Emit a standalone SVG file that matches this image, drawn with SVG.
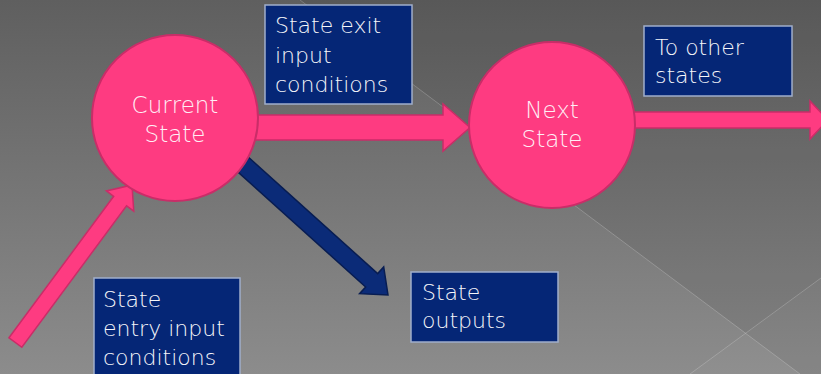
<svg xmlns="http://www.w3.org/2000/svg" width="821" height="374" viewBox="0 0 821 374">
<defs>
<linearGradient id="bg" x1="0" y1="0" x2="0" y2="1">
<stop offset="0" stop-color="#5f5f5f"/>
<stop offset="1" stop-color="#8c8c8c"/>
</linearGradient>
<style>
.state{fill:#fe3b81;stroke:#c92d68;stroke-width:2}
.pink{fill:#fe3b81;stroke:#c92d68;stroke-width:1.5;stroke-linejoin:miter}
.navy{fill:#0b2b78;stroke:#081d52;stroke-width:1.5}
.box{fill:#052676;stroke:#a0aecb;stroke-width:1.5}
.lbl{font-family:"DejaVu Sans","Liberation Sans",sans-serif;font-size:22px;font-weight:300;fill:#f6f6fa}
.slbl{font-family:"DejaVu Sans","Liberation Sans",sans-serif;font-size:23px;font-weight:300;fill:#ffeef5;text-anchor:middle}
.deco{stroke:#ffffff;stroke-opacity:0.2;stroke-width:1;fill:none}
</style>
</defs>
<g id="background">
<rect x="0" y="0" width="821" height="374" fill="url(#bg)"/>
<polygon points="300,0 821,0 821,374 800,374" fill="#000" fill-opacity="0.07"/>
<polygon points="690,374 821,278 821,374" fill="#fff" fill-opacity="0.03"/>
<line class="deco" x1="300" y1="0" x2="800" y2="374"/>
<line class="deco" x1="690" y1="374" x2="821" y2="278"/>
</g>
<g id="connectors">
<polygon id="entry-arrow" class="pink" transform="translate(132 185) rotate(-53.5)" points="-196,-8 -20,-8 -20,-17 0,0 -20,17 -20,8 -196,8"/>
<polygon id="exit-arrow" class="pink" points="250,115 443,115 443,104 470,127.5 443,151 443,140 250,140"/>
<polygon id="out-arrow" class="pink" points="630,112 810,112 810,101 828,120 810,139 810,128 630,128"/>
<polygon id="output-arrow" class="navy" transform="translate(388 295) rotate(42)" points="-200,-9 -22,-9 -22,-18 0,0 -22,18 -22,9 -200,9"/>
</g>
<g id="current-state">
<circle class="state" cx="175" cy="118" r="83"/>
<text class="slbl" x="175" y="113">Current</text>
<text class="slbl" x="175" y="142">State</text>
</g>
<g id="next-state">
<circle class="state" cx="552" cy="125" r="83"/>
<text class="slbl" x="552" y="118">Next</text>
<text class="slbl" x="552" y="147">State</text>
</g>
<g id="exit-label">
<rect class="box" x="265" y="5" width="147" height="99"/>
<text class="lbl" x="275" y="33">State exit</text>
<text class="lbl" x="275" y="63">input</text>
<text class="lbl" x="275" y="92">conditions</text>
</g>
<g id="other-label">
<rect class="box" x="644" y="26" width="148" height="70"/>
<text class="lbl" x="655" y="55">To other</text>
<text class="lbl" x="655" y="83">states</text>
</g>
<g id="entry-label">
<rect class="box" x="94" y="278" width="146" height="100"/>
<text class="lbl" x="103" y="307">State</text>
<text class="lbl" x="103" y="336">entry input</text>
<text class="lbl" x="103" y="365">conditions</text>
</g>
<g id="outputs-label">
<rect class="box" x="411" y="272" width="147" height="70"/>
<text class="lbl" x="422" y="300">State</text>
<text class="lbl" x="422" y="328">outputs</text>
</g>
</svg>
